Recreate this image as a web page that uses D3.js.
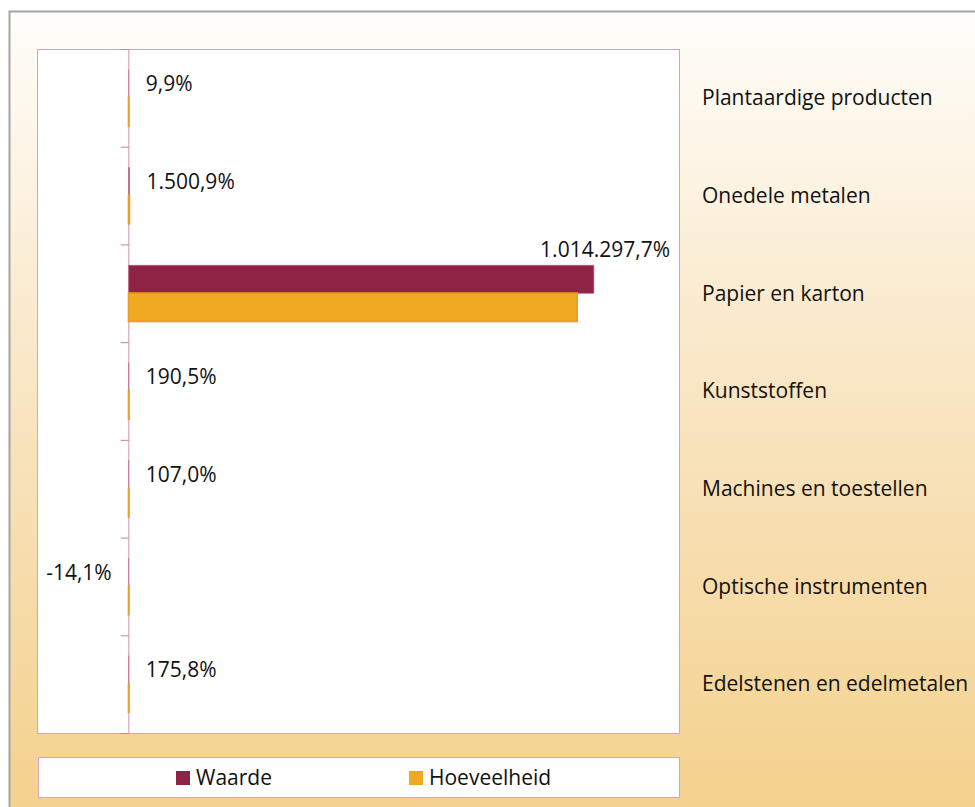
<!DOCTYPE html>
<html>
<head>
<meta charset="utf-8">
<script src="https://cdn.jsdelivr.net/npm/d3@7"></script>
<style>
  body { margin: 0; background: #fff; }
  text { font-family: "Open Sans", "Noto Sans", sans-serif; fill: #111; }
</style>
</head>
<body>
<div id="chart"></div>
<script>
// data
const categories = [
  "Plantaardige producten",
  "Onedele metalen",
  "Papier en karton",
  "Kunststoffen",
  "Machines en toestellen",
  "Optische instrumenten",
  "Edelstenen en edelmetalen"
];
const series = ["Waarde", "Hoeveelheid"];
// groei in % (Waarde is gelabeld, Hoeveelheid alleen als balk af te lezen)
const waarde = [9.9, 1500.9, 1014297.7, 190.5, 107.0, -14.1, 175.8];
const hoeveelheid = [8.5, 1200.0, 977600, 150.0, 90.0, -10.0, 140.0];

/** CONSTANTS */
const width = 975;
const height = 807;
const plot = { left: 37, right: 679, top: 49, bottom: 733 };
const colors = { Waarde: "#8f2346", Hoeveelheid: "#efaa22" };

const nl = d3.formatLocale({ decimal: ",", thousands: ".", grouping: [3], currency: ["€", ""], minus: "-" });
const fmt = v => nl.format(",.1f")(v) + "%";

const rows = categories.map((c, i) => ({
  cat: c,
  Waarde: waarde[i],
  Hoeveelheid: hoeveelheid[i]
}));

/** SCALES */
const xScale = d3.scaleLinear()
  .domain([-200000, 1200000])
  .range([plot.left, plot.right]);

const yScale = d3.scaleBand()
  .domain(categories)
  .range([plot.top, plot.bottom])
  .paddingInner(0)
  .paddingOuter(0);

const ySub = d3.scaleBand()
  .domain(series)
  .range([0, yScale.bandwidth()])
  .paddingInner(0)
  .paddingOuter(0.745);

/** DRAWING */
const svg = d3.select("#chart").append("svg")
  .attr("width", width)
  .attr("height", height);

const defs = svg.append("defs");
const grad = defs.append("linearGradient")
  .attr("id", "bg")
  .attr("x1", 0).attr("y1", 0).attr("x2", 0).attr("y2", 1);
grad.append("stop").attr("offset", "0%").attr("stop-color", "#fffefb");
grad.append("stop").attr("offset", "45%").attr("stop-color", "#f9e6c4");
grad.append("stop").attr("offset", "100%").attr("stop-color", "#f4d08a");

// outer frame
svg.append("rect")
  .attr("x", 9.5).attr("y", 11.5)
  .attr("width", 1000).attr("height", 820)
  .attr("fill", "url(#bg)")
  .attr("stroke", "#a4a4a4")
  .attr("stroke-width", 2);

// plot area
svg.append("rect")
  .attr("x", plot.left + 0.5).attr("y", plot.top + 0.5)
  .attr("width", plot.right - plot.left).attr("height", plot.bottom - plot.top)
  .attr("fill", "#fff")
  .attr("stroke", "#d9a2b8");

// zero axis line
const x0 = xScale(0);
svg.append("line")
  .attr("x1", x0).attr("x2", x0)
  .attr("y1", plot.top).attr("y2", plot.bottom)
  .attr("stroke", "#e2b2c6")
  .attr("stroke-width", 1.5);

// bars
const groups = svg.selectAll("g.cat")
  .data(rows)
  .join("g")
  .attr("class", "cat")
  .attr("transform", d => `translate(0,${yScale(d.cat)})`);

groups.selectAll("rect.bar")
  .data(d => series.map(s => ({ s, v: d[s] })))
  .join("rect")
  .attr("class", "bar")
  .attr("x", d => xScale(Math.min(0, d.v)))
  .attr("y", d => ySub(d.s))
  .attr("width", d => Math.abs(xScale(d.v) - xScale(0)))
  .attr("height", ySub.bandwidth())
  .attr("fill", d => colors[d.s])
  .attr("stroke", d => d.s === "Waarde" ? "#b85578" : "#ec9d24")
  .attr("stroke-width", d => d.s === "Waarde" ? 1 : 2)
  .attr("stroke-opacity", d => d.s === "Waarde" ? 0.6 : 1);

// ticks at category boundaries
const bounds = categories.map(c => yScale(c)).concat([plot.bottom]);
svg.selectAll("line.tick")
  .data(bounds)
  .join("line")
  .attr("class", "tick")
  .attr("x1", x0 - 8).attr("x2", x0)
  .attr("y1", d => d + 0.5).attr("y2", d => d + 0.5)
  .attr("stroke", "#c7839d")
  .attr("stroke-width", 1);

// data labels (Waarde)
const labelSize = 21;
svg.selectAll("text.value")
  .data(rows)
  .join("text")
  .attr("class", "value")
  .attr("font-size", labelSize)
  .each(function (d) {
    const t = d3.select(this).text(fmt(d.Waarde));
    const w = this.getComputedTextLength();
    const yMid = yScale(d.cat) + ySub("Waarde") + ySub.bandwidth() / 2;
    if (d.Waarde < 0) {
      t.attr("x", xScale(d.Waarde) - 17).attr("y", yMid).attr("text-anchor", "end");
    } else if (xScale(d.Waarde) + 17 + w > plot.right) {
      // no room right of the bar: put it above, flush right
      t.attr("x", plot.right - 9)
        .attr("y", yScale(d.cat) + ySub("Waarde") - 16)
        .attr("text-anchor", "end");
    } else {
      t.attr("x", xScale(d.Waarde) + 17).attr("y", yMid).attr("text-anchor", "start");
    }
  })
  .attr("dy", "0.35em");

// category labels on the right
svg.selectAll("text.cat")
  .data(categories)
  .join("text")
  .attr("class", "cat")
  .attr("x", 702)
  .attr("y", d => yScale(d) + yScale.bandwidth() / 2)
  .attr("dy", "0.35em")
  .attr("font-size", labelSize)
  .text(d => d);

// legend
svg.append("rect")
  .attr("x", 38.5).attr("y", 757.5)
  .attr("width", 641).attr("height", 40)
  .attr("fill", "#fff")
  .attr("stroke", "#d9a2b8");

const legendX = [176, 409];
const leg = svg.selectAll("g.legend")
  .data(series)
  .join("g")
  .attr("class", "legend")
  .attr("transform", (d, i) => `translate(${legendX[i]},771)`);
leg.append("rect")
  .attr("width", 14).attr("height", 14)
  .attr("fill", d => colors[d]);
leg.append("text")
  .attr("x", 20).attr("y", 7)
  .attr("dy", "0.35em")
  .attr("font-size", labelSize)
  .text(d => d);
</script>
</body>
</html>
